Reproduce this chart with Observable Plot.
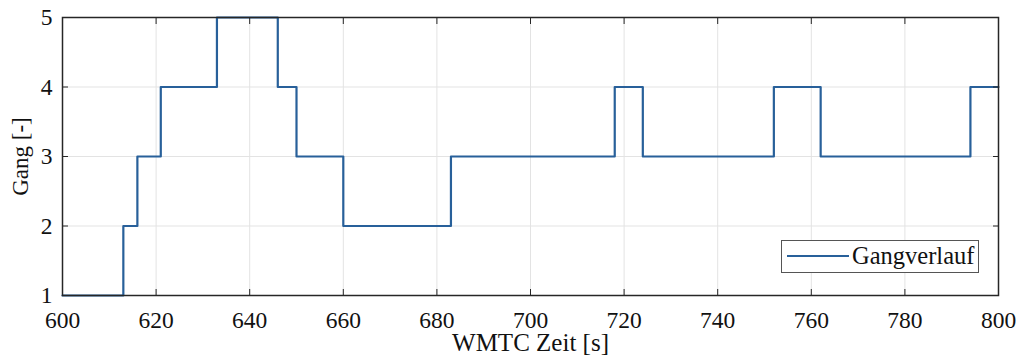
<!DOCTYPE html>
<html>
<head>
<meta charset="utf-8">
<script src="https://cdn.jsdelivr.net/npm/d3@7"></script>
<script src="https://cdn.jsdelivr.net/npm/@observablehq/plot@0.6"></script>
<style>
  html, body { margin: 0; padding: 0; background: #fff; }
  #wrap { position: relative; width: 1017px; height: 363px; font-family: "Liberation Serif", "Times New Roman", serif; }
  #wrap svg, #wrap svg text { font-family: "Liberation Serif", "Times New Roman", serif !important; font-variant: normal !important; }
  #legend { position: absolute; left: 781px; top: 240px; width: 198px; height: 33px; border: 1px solid #555; background: #fff; box-sizing: border-box; }
  #legend .ln { position: absolute; left: 5px; top: 14px; width: 62px; height: 0; border-top: 2px solid #28609a; }
  #legend .tx { position: absolute; left: 70px; top: 0px; font-size: 24.5px; line-height: 30px; color: #111; white-space: nowrap; }
</style>
</head>
<body>
<div id="wrap"></div>
<script>
const times = [600, 613, 616, 621, 633, 646, 650, 660, 683, 718, 724, 752, 762, 794, 800];
const gears = [1,   2,   3,   4,   5,   4,   3,   2,   3,   4,   3,   4,   3,   4,   4];
const xTicks = [600, 620, 640, 660, 680, 700, 720, 740, 760, 780, 800];
const yTicks = [1, 2, 3, 4, 5];
const xLabel = "WMTC Zeit [s]";
const yLabel = "Gang [-]";
const seriesName = "Gangverlauf";

const data = times.map((t, i) => ({t, g: gears[i]}));
const ink = "#262626";
const lineColor = "#28609a";
const serif = "Liberation Serif, Times New Roman, serif";

const chart = Plot.plot({
  width: 1017,
  height: 363,
  marginLeft: 62,
  marginRight: 19,
  marginTop: 17,
  marginBottom: 68,
  style: {fontFamily: serif, fontSize: "23px", color: ink, background: "#fff"},
  x: {domain: [600, 800]},
  y: {domain: [1, 5]},
  marks: [
    Plot.gridX(xTicks, {stroke: "#e3e3e3", strokeOpacity: 1, strokeWidth: 1}),
    Plot.gridY(yTicks, {stroke: "#e3e3e3", strokeOpacity: 1, strokeWidth: 1}),
    Plot.line(data, {x: "t", y: "g", curve: "step-after", stroke: lineColor, strokeWidth: 2.2}),
    Plot.frame({stroke: ink, strokeWidth: 1.5}),
    Plot.axisX(xTicks, {anchor: "bottom", tickSize: -6, tickPadding: 22, stroke: ink, fill: "#111",
      tickFormat: "d", label: null, fontSize: 23.5, fontFamily: serif}),
    Plot.axisX(xTicks, {anchor: "bottom", tickSize: 0, tickFormat: () => "", stroke: "none", fill: "#111",
      label: xLabel, labelAnchor: "center", labelOffset: 55, labelArrow: "none", fontSize: 25, fontFamily: serif}),
    Plot.axisX(xTicks, {anchor: "top", tickSize: -6, tickFormat: () => "", label: null, stroke: ink}),
    Plot.axisY(yTicks, {anchor: "left", tickSize: -6, tickPadding: 16, stroke: ink, fill: "#111",
      tickFormat: "d", label: null, fontSize: 23.5, fontFamily: serif}),
    Plot.axisY(yTicks, {anchor: "left", tickSize: 0, tickFormat: () => "", stroke: "none", fill: "#111",
      label: yLabel, labelAnchor: "center", labelOffset: 51, labelArrow: "none", fontSize: 23, fontFamily: serif}),
    Plot.axisY(yTicks, {anchor: "right", tickSize: -6, tickFormat: () => "", label: null, stroke: ink})
  ]
});

const wrap = document.getElementById("wrap");
wrap.appendChild(chart);
const lg = document.createElement("div");
lg.id = "legend";
lg.innerHTML = `<div class="ln"></div><div class="tx">${seriesName}</div>`;
wrap.appendChild(lg);
</script>
</body>
</html>
